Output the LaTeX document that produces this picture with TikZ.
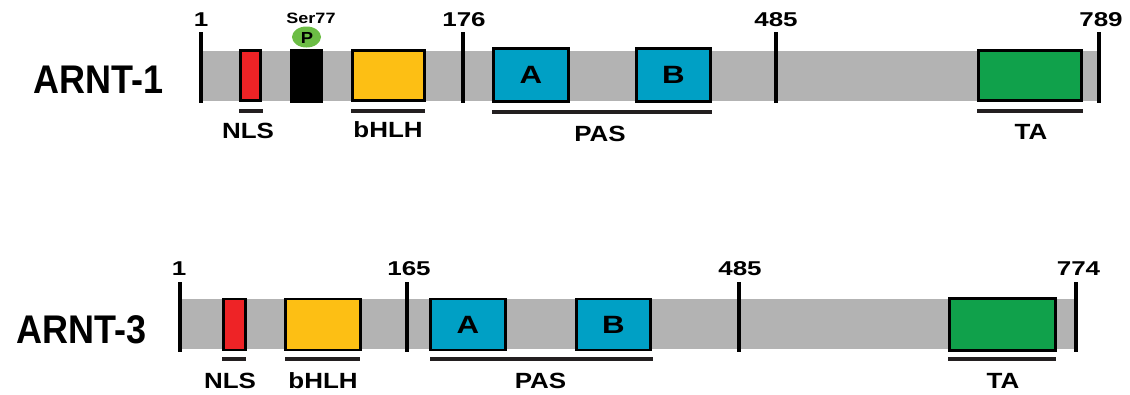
\documentclass[tikz,border=0pt]{standalone}
\usepackage{fontspec}
\usetikzlibrary{shapes.geometric}
\setmainfont{Liberation Sans}
\definecolor{backbone}{HTML}{B3B3B3}
\definecolor{nlsred}{HTML}{EE2326}
\definecolor{hlhyellow}{HTML}{FDBF14}
\definecolor{pasblue}{HTML}{00A0C5}
\definecolor{tagreen}{HTML}{10A14B}
\definecolor{pgreen}{HTML}{6CBD45}
\definecolor{ink}{HTML}{231F20}
\newcommand{\lbl}[3]{{\fontsize{#1}{#1}\selectfont\bfseries\scalebox{#2}[1]{#3}}}
\begin{document}
\begin{tikzpicture}[x=1pt,y=-1pt,
  bar/.style={fill=backbone,draw=none},
  dom/.style={draw=black,line width=2.6pt,inner sep=0pt,anchor=center},
  tickmark/.style={line width=3.6pt,draw=black},
  uline/.style={line width=4pt,draw=ink},
  txt/.style={inner sep=0pt,text=black,anchor=center}]
\useasboundingbox (0,0) rectangle (1130,394);

% ---------------- ARNT-1 ----------------
\fill[bar] (201,50.5) rectangle (1099,100.5);
\node[txt] (name1) at (99,79.5) {\lbl{40}{0.9}{ARNT-1}};

\node[dom,fill=nlsred,minimum width=20.5,minimum height=50.5] (nls1) at (250.5,75.5) {};
\node[fill=black,inner sep=0pt,minimum width=33,minimum height=54] (ser1) at (306.5,76) {};
\node[fill=pgreen,ellipse,inner sep=0pt,minimum width=29,minimum height=21] (p1) at (306.5,37) {};
\node[txt] (plbl1) at (307,38) {\lbl{16}{1.15}{P}};
\node[txt] (serlbl1) at (311,18.5) {\lbl{15}{1.2}{Ser77}};
\node[dom,fill=hlhyellow,minimum width=72.5,minimum height=50.5] (bhlh1) at (388.5,75.5) {};
\node[dom,fill=pasblue,minimum width=75,minimum height=53.5] (pasa1) at (531,75) {};
\node[dom,fill=pasblue,minimum width=74.5,minimum height=53.5] (pasb1) at (673.5,75) {};
\node[txt] at (pasa1.center) {\lbl{25}{1.25}{A}};
\node[txt] at (pasb1.center) {\lbl{25}{1.25}{B}};
\node[dom,fill=tagreen,minimum width=103.5,minimum height=50.5] (ta1) at (1030,75.5) {};

\coordinate (k1a) at (201,32);  \coordinate (k1b) at (201,103);
\coordinate (k2a) at (463,32);  \coordinate (k2b) at (463,103);
\coordinate (k3a) at (776,32);  \coordinate (k3b) at (776,103);
\coordinate (k4a) at (1099,32); \coordinate (k4b) at (1099,103);
\draw[tickmark] (k1a) -- (k1b);
\draw[tickmark] (k2a) -- (k2b);
\draw[tickmark] (k3a) -- (k3b);
\draw[tickmark] (k4a) -- (k4b);
\node[txt] (n1a) at (201,20) {\lbl{20}{1.3}{1}};
\node[txt] (n1b) at (464,20) {\lbl{20}{1.3}{176}};
\node[txt] (n1c) at (776,20) {\lbl{20}{1.3}{485}};
\node[txt] (n1d) at (1101,20) {\lbl{20}{1.3}{789}};

\draw[uline] (239,111) -- (263,111);
\draw[uline] (351,111) -- (425,111);
\draw[uline] (492,111.5) -- (712,111.5);
\draw[uline] (977,111) -- (1083,111);
\node[txt] (l1a) at (248,130.5) {\lbl{22}{1.18}{NLS}};
\node[txt] (l1b) at (388,130) {\lbl{22}{1.18}{bHLH}};
\node[txt] (l1c) at (600,134) {\lbl{22}{1.18}{PAS}};
\node[txt] (l1d) at (1031,131.5) {\lbl{22}{1.18}{TA}};

% ---------------- ARNT-3 ----------------
\fill[bar] (180,299) rectangle (1076,349);
\node[txt] (name3) at (82,329.5) {\lbl{40}{0.9}{ARNT-3}};

\node[dom,fill=nlsred,minimum width=22.5,minimum height=51] (nls3) at (234.5,324.5) {};
\node[dom,fill=hlhyellow,minimum width=75.5,minimum height=51] (bhlh3) at (323,324.5) {};
\node[dom,fill=pasblue,minimum width=75.5,minimum height=51] (pasa3) at (468,324.5) {};
\node[dom,fill=pasblue,minimum width=74.5,minimum height=51] (pasb3) at (613.5,324.5) {};
\node[txt] at (pasa3.center) {\lbl{25}{1.25}{A}};
\node[txt] at (pasb3.center) {\lbl{25}{1.25}{B}};
\node[dom,fill=tagreen,minimum width=106,minimum height=52] (ta3) at (1002.5,324.5) {};

\coordinate (m1a) at (180,282);  \coordinate (m1b) at (180,351.5);
\coordinate (m2a) at (407,282);  \coordinate (m2b) at (407,351.5);
\coordinate (m3a) at (739,282);  \coordinate (m3b) at (739,351.5);
\coordinate (m4a) at (1076,282); \coordinate (m4b) at (1076,351.5);
\draw[tickmark] (m1a) -- (m1b);
\draw[tickmark] (m2a) -- (m2b);
\draw[tickmark] (m3a) -- (m3b);
\draw[tickmark] (m4a) -- (m4b);
\node[txt] (n3a) at (179,269) {\lbl{20}{1.3}{1}};
\node[txt] (n3b) at (409,269) {\lbl{20}{1.3}{165}};
\node[txt] (n3c) at (740,269) {\lbl{20}{1.3}{485}};
\node[txt] (n3d) at (1078.5,269) {\lbl{20}{1.3}{774}};

\draw[uline] (222,358.5) -- (246,358.5);
\draw[uline] (285,358.5) -- (360,358.5);
\draw[uline] (430,358.5) -- (653,358.5);
\draw[uline] (948,358.5) -- (1056,358.5);
\node[txt] (l3a) at (230,381) {\lbl{22}{1.18}{NLS}};
\node[txt] (l3b) at (323,380.5) {\lbl{22}{1.18}{bHLH}};
\node[txt] (l3c) at (540.5,381) {\lbl{22}{1.18}{PAS}};
\node[txt] (l3d) at (1003,381) {\lbl{22}{1.18}{TA}};
\end{tikzpicture}
\end{document}
